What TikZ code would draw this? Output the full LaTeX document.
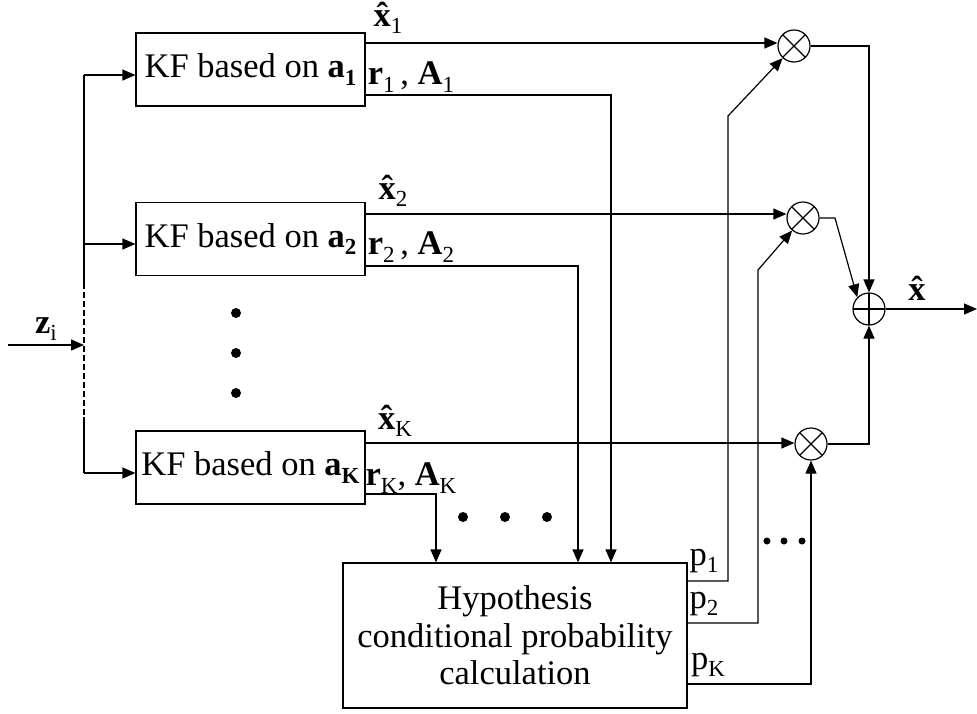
\documentclass[tikz,border=0pt]{standalone}
\usepackage{fontspec}
\setmainfont{Liberation Serif}
\usetikzlibrary{arrows.meta}
\newcommand{\sbx}[1]{\raisebox{-0.22em}{\fontsize{23}{25}\selectfont #1}}
\newcommand{\xh}{\textbf{\ooalign{x\cr\hidewidth\char"02C6\hidewidth\cr}}}
\begin{document}
\begin{tikzpicture}[x=1pt,y=-1pt,line width=1.2pt,
  every node/.style={font=\fontsize{34.5}{37.5}\selectfont},
  arr/.style={-{Triangle[length=13pt,width=11pt]}},
  kf/.style={draw,rectangle,minimum width=229pt,minimum height=73pt,inner sep=0pt},
  hypbox/.style={draw,rectangle,minimum width=344pt,minimum height=145pt,inner sep=0pt,align=center},
  mult/.style={draw,circle,minimum size=32pt,inner sep=0pt,
    path picture={\draw ([shift={(45:16pt)}]path picture bounding box.center) -- ([shift={(225:16pt)}]path picture bounding box.center);
                  \draw ([shift={(135:16pt)}]path picture bounding box.center) -- ([shift={(315:16pt)}]path picture bounding box.center);}},
  summ/.style={draw,circle,minimum size=32pt,inner sep=0pt,
    path picture={\draw (path picture bounding box.north) -- (path picture bounding box.south);
                  \draw (path picture bounding box.west) -- (path picture bounding box.east);}},
  lbl/.style={inner sep=0pt,anchor=center},
  bigdot/.style={circle,fill,inner sep=0pt,minimum size=10pt},
  smalldot/.style={circle,fill,inner sep=0pt,minimum size=7pt}]
\useasboundingbox (0,0) rectangle (977,713);

% boxes
\node[kf] (b1) at (250.5,69.5) {KF based on \textbf{a\sbx{1}}};
\node[kf] (b2) at (250.5,239) {KF based on \textbf{a\sbx{2}}};
\node[kf] (bK) at (250.5,467.5) {KF based on \textbf{a\sbx{K}}};
\node[hypbox] (hyp) at (515,635.5) {Hypothesis\\conditional probability\\calculation};

% operators
\node[mult] (m1) at (794,46) {};
\node[mult] (m2) at (803,218) {};
\node[mult] (mK) at (811,444) {};
\node[summ] (sum) at (869,309) {};

% input bus
\coordinate (zin) at (8,345);
\coordinate (zbus) at (84,345);
\coordinate (bus1) at (84,75);
\coordinate (bus2) at (84,244);
\coordinate (busK) at (84,473);
\coordinate (dashA) at (84,283);
\coordinate (dashB) at (84,417);
\draw[arr] (zin) -- (zbus);
\draw (bus1) -- (dashA);
\draw[line width=1.1pt,dash pattern=on 6pt off 3pt] (dashA) -- (dashB);
\draw (dashB) -- (busK);
\draw[arr] (bus1) -- (b1.west |- bus1);
\draw[arr] (bus2) -- (b2.west |- bus2);
\draw[arr] (busK) -- (bK.west |- busK);
\node[lbl] (lz) at (46,329) {\textbf{z}\sbx{i}};

% estimate lines
\coordinate (y1) at (0,43);
\coordinate (y2) at (0,214);
\coordinate (yK) at (0,443);
\draw[arr] (b1.east |- y1) -- (m1.west |- y1);
\draw[arr] (b2.east |- y2) -- (m2.west |- y2);
\draw[arr] (bK.east |- yK) -- (mK.west |- yK);
\node[lbl] (lx1) at (388,22) {\xh\sbx{1}};
\node[lbl] (lx2) at (393,195) {\xh\sbx{2}};
\node[lbl] (lxK) at (395,425) {\xh\sbx{K}};

% residual lines
\coordinate (r1) at (611,95);
\coordinate (r2) at (578,266);
\coordinate (rK) at (436,494);
\draw[arr] (b1.east |- r1) -- (r1) -- (r1 |- hyp.north);
\draw[arr] (b2.east |- r2) -- (r2) -- (r2 |- hyp.north);
\draw[arr] (bK.east |- rK) -- (rK) -- (rK |- hyp.north);
\node[lbl] (lr1) at (411,77) {\textbf{r}\sbx{1}\,, \textbf{A}\sbx{1}};
\node[lbl] (lr2) at (411,247) {\textbf{r}\sbx{2}\,, \textbf{A}\sbx{2}};
\node[lbl] (lrK) at (411,478) {\textbf{r}\sbx{K}, \textbf{A}\sbx{K}};

% probability lines
\coordinate (p1a) at (728,581);
\coordinate (p1b) at (728,116);
\coordinate (p2a) at (758,623);
\coordinate (p2b) at (758,270);
\coordinate (pKa) at (811,684);
\draw[arr] (hyp.east |- p1a) -- (p1a) -- (p1b) -- (m1);
\draw[arr] (hyp.east |- p2a) -- (p2a) -- (p2b) -- (m2);
\draw[arr] (hyp.east |- pKa) -- (pKa) -- (mK.south);
\node[lbl] (lp1) at (704,561) {p\sbx{1}};
\node[lbl] (lp2) at (704,604) {p\sbx{2}};
\node[lbl] (lpK) at (708,665) {p\sbx{K}};

% to summation
\coordinate (s1) at (869,46);
\coordinate (s2) at (835,218);
\draw[arr] (m1.east) -- (s1) -- (sum.north);
\draw[arr] (m2.east) -- (s2) -- (sum.north west);
\draw[arr] (mK.east) -| (sum.south);
\coordinate (out) at (977,309);
\draw[arr] (sum.east) -- (out);
\node[lbl] (lxo) at (917,293) {\xh};

% dots
\node[bigdot] (d1) at (236,313) {};
\node[bigdot] (d2) at (236,353) {};
\node[bigdot] (d3) at (236,393) {};
\node[bigdot] (h1) at (463,517) {};
\node[bigdot] (h2) at (505,517) {};
\node[bigdot] (h3) at (547,517) {};
\node[smalldot] (e1) at (767,541) {};
\node[smalldot] (e2) at (784,541) {};
\node[smalldot] (e3) at (802,541) {};
\end{tikzpicture}
\end{document}
